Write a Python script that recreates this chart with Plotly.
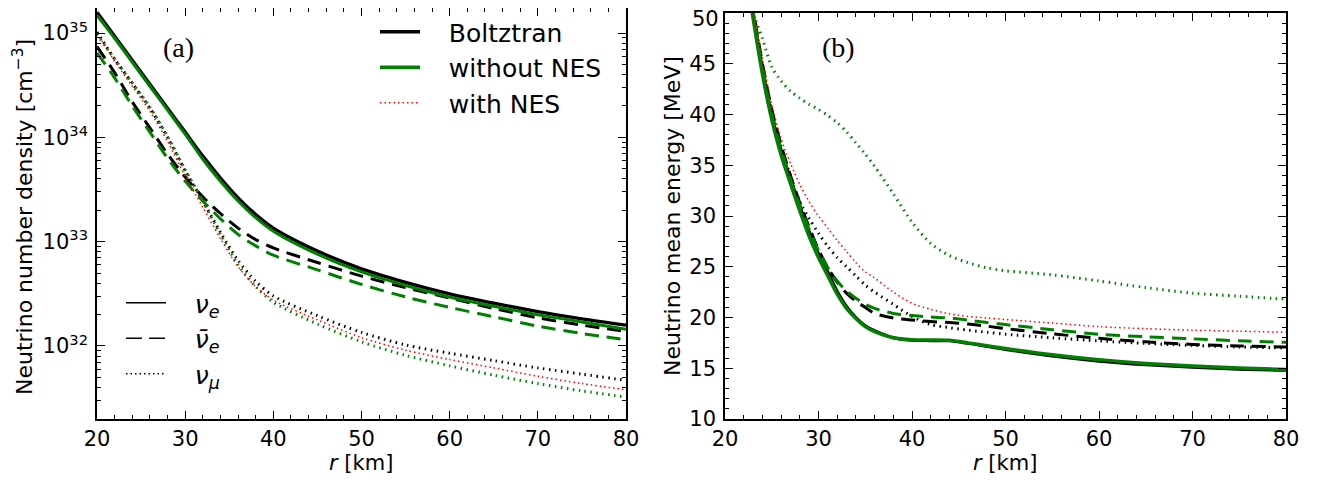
import plotly.graph_objects as go

# ---------------- data ----------------
# panel (a): radius [km] and log10 of number density [cm^-3]
r_a = [20, 22, 24, 26, 28, 30, 32, 34, 36, 38, 40, 45, 50, 55, 60, 65, 70, 75, 80]
logn_boltz_nue    = [35.20, 34.97, 34.74, 34.51, 34.28, 34.05, 33.82, 33.61, 33.42, 33.26, 33.13, 32.91, 32.74, 32.61, 32.50, 32.41, 32.33, 32.26, 32.20]
logn_boltz_anue   = [34.87, 34.62, 34.34, 34.09, 33.84, 33.62, 33.43, 33.27, 33.13, 33.02, 32.94, 32.80, 32.67, 32.56, 32.46, 32.36, 32.27, 32.20, 32.14]
logn_boltz_numu   = [35.01, 34.75, 34.52, 34.28, 34.00, 33.68, 33.39, 33.09, 32.82, 32.62, 32.48, 32.29, 32.13, 32.01, 31.93, 31.86, 31.79, 31.73, 31.67]
logn_woNES_nue    = [35.17, 34.95, 34.72, 34.49, 34.26, 34.03, 33.79, 33.58, 33.39, 33.23, 33.10, 32.88, 32.71, 32.58, 32.47, 32.38, 32.30, 32.23, 32.16]
logn_woNES_anue   = [34.81, 34.57, 34.30, 34.05, 33.80, 33.58, 33.39, 33.22, 33.07, 32.96, 32.87, 32.73, 32.59, 32.47, 32.37, 32.28, 32.19, 32.12, 32.06]
logn_woNES_numu   = [34.99, 34.75, 34.52, 34.29, 34.01, 33.69, 33.39, 33.07, 32.78, 32.57, 32.42, 32.21, 32.04, 31.91, 31.81, 31.72, 31.64, 31.57, 31.51]
logn_wNES_numu    = [35.00, 34.73, 34.49, 34.25, 33.96, 33.63, 33.33, 33.03, 32.76, 32.57, 32.44, 32.25, 32.08, 31.96, 31.87, 31.79, 31.71, 31.64, 31.58]

# panel (b): radius [km] and mean energy [MeV]
r_b = [22.5, 23, 24, 25, 26, 27, 28, 29, 30, 31, 32, 33, 34, 35, 36, 38, 40, 42, 44, 46, 48, 50, 55, 60, 65, 70, 75, 80]
e_boltz_nue  = [53.0, 50.0, 44.5, 40.0, 36.5, 33.7, 31.0, 28.5, 26.3, 24.5, 22.6, 21.1, 20.0, 19.2, 18.7, 18.0, 17.75, 17.72, 17.70, 17.45, 17.15, 16.85, 16.2, 15.7, 15.35, 15.1, 14.9, 14.8]
e_boltz_anue = [53.5, 50.5, 45.0, 40.5, 37.0, 34.0, 31.3, 28.9, 26.7, 24.9, 23.5, 22.4, 21.6, 21.0, 20.4, 19.95, 19.75, 19.6, 19.5, 19.35, 19.15, 18.9, 18.4, 17.95, 17.6, 17.35, 17.2, 17.1]
e_boltz_numu = [53.2, 50.2, 44.8, 40.3, 36.8, 33.9, 31.4, 29.75, 28.3, 27.0, 25.9, 25.0, 24.1, 23.2, 22.5, 21.3, 20.1, 19.3, 19.0, 18.75, 18.55, 18.35, 18.0, 17.7, 17.45, 17.25, 17.1, 17.0]
e_woNES_nue  = [52.5, 49.5, 44.0, 39.5, 36.0, 33.2, 30.5, 28.0, 25.9, 24.1, 22.3, 20.9, 19.9, 19.1, 18.6, 18.0, 17.8, 17.78, 17.75, 17.5, 17.22, 16.95, 16.33, 15.85, 15.48, 15.22, 15.02, 14.88]
e_woNES_anue = [53.0, 50.0, 44.5, 40.0, 36.6, 33.6, 31.0, 28.7, 26.6, 24.9, 23.6, 22.6, 21.9, 21.3, 20.9, 20.4, 20.2, 20.05, 19.95, 19.75, 19.5, 19.3, 18.8, 18.35, 18.1, 17.9, 17.7, 17.55]
e_woNES_numu = [51.5, 50.0, 47.5, 44.7, 43.3, 42.3, 41.6, 41.0, 40.5, 39.9, 39.2, 38.3, 37.2, 36.1, 34.9, 32.2, 29.4, 27.3, 26.1, 25.4, 24.9, 24.6, 24.2, 23.6, 22.95, 22.4, 22.1, 21.8]
e_wNES_numu  = [53.5, 50.5, 45.5, 41.0, 37.6, 35.2, 33.1, 31.4, 30.0, 28.8, 27.6, 26.5, 25.4, 24.5, 23.9, 22.5, 21.4, 20.8, 20.35, 20.1, 19.95, 19.8, 19.45, 19.1, 18.9, 18.75, 18.65, 18.55]

model_names = ["Boltztran", "without NES", "with NES"]
flavour_names = ["<i>ν</i><sub><i>e</i></sub>", "<i>ν̄</i><sub><i>e</i></sub>", "<i>ν</i><sub><i>μ</i></sub>"]

x_ticks = [20, 30, 40, 50, 60, 70, 80]
a_ytickvals = [1e32, 1e33, 1e34, 1e35]
a_yticktext = ["10<sup>32</sup>", "10<sup>33</sup>", "10<sup>34</sup>", "10<sup>35</sup>"]
b_ytickvals = [10, 15, 20, 25, 30, 35, 40, 45, 50]
b_yticktext = ["10", "15", "20", "25", "30", "35", "40", "45", ""]   # "50" is placed as a text below the page edge
b_top_label = "50"

# ---------------- styles ----------------
BLACK, GREEN, RED = "#000000", "#008000", "#ff0000"
DASH = "14px,8px"
DOT = "1.5px,4.5px"
DOT_RED = "1.5px,3px"
FONT = "DejaVu Sans"
GAP = "\u00a0\u00a0\u00a0"

# page body has an 8px margin: work in screen pixels and convert
OFF = 8
W, H = 1330 - OFF, 480 - OFF
def X(px):
    return (px - OFF) / W
def Y(py):
    return 1 - (py - OFF) / H

fig = go.Figure()

def add(x, y, color, width, dash, xa, ya):
    fig.add_trace(go.Scatter(x=x, y=y, mode="lines", showlegend=False, hoverinfo="skip",
                             line=dict(color=color, width=width, dash=dash, shape="spline", smoothing=0.8),
                             xaxis=xa, yaxis=ya))

def pw(vals):
    return [10.0 ** v for v in vals]

# panel (a)
add(r_a, pw(logn_boltz_nue), BLACK, 3.4, "solid", "x", "y")
add(r_a, pw(logn_boltz_anue), BLACK, 3, DASH, "x", "y")
add(r_a, pw(logn_boltz_numu), BLACK, 3, DOT, "x", "y")
add(r_a, pw(logn_woNES_nue), GREEN, 3, "solid", "x", "y")
add(r_a, pw(logn_woNES_anue), GREEN, 3, DASH, "x", "y")
add(r_a, pw(logn_woNES_numu), GREEN, 3, DOT, "x", "y")
add(r_a, pw(logn_wNES_numu), RED, 1.5, DOT_RED, "x", "y")

# panel (b)
add(r_b, e_boltz_nue, BLACK, 3, "solid", "x2", "y2")
add(r_b, e_boltz_anue, BLACK, 3, DASH, "x2", "y2")
add(r_b, e_boltz_numu, BLACK, 3, DOT, "x2", "y2")
add(r_b, e_woNES_nue, GREEN, 3.5, "solid", "x2", "y2")
add(r_b, e_woNES_anue, GREEN, 3, DASH, "x2", "y2")
add(r_b, e_woNES_numu, GREEN, 3, DOT, "x2", "y2")
add(r_b, e_wNES_numu, RED, 1.5, DOT_RED, "x2", "y2")

# legend entries
leg1_styles = [(BLACK, 3.5, "solid"), (GREEN, 3.5, "solid"), (RED, 1.5, DOT_RED)]
for i, (name, (c, w, d)) in enumerate(zip(model_names, leg1_styles)):
    fig.add_trace(go.Scatter(x=[None], y=[None], mode="lines", name=GAP + name, legend="legend",
                             legendgroup=f"m{i}", line=dict(color=c, width=w, dash=d), xaxis="x", yaxis="y"))
leg2_styles = [(BLACK, 1.5, "solid"), (BLACK, 1.5, "16px,7px"), (BLACK, 1.5, "1.5px,3px")]
for i, (name, (c, w, d)) in enumerate(zip(flavour_names, leg2_styles)):
    fig.add_trace(go.Scatter(x=[None], y=[None], mode="lines", name=GAP + name, legend="legend2",
                             legendgroup=f"f{i}", line=dict(color=c, width=w, dash=d), xaxis="x", yaxis="y"))

axis_common = dict(showline=True, linecolor="black", linewidth=1.5, mirror="allticks",
                   ticks="inside", ticklen=8, tickwidth=1.2, tickcolor="black",
                   showgrid=False, zeroline=False, automargin=False,
                   tickfont=dict(family=FONT, size=21, color="black"))
minor_lin = dict(ticks="inside", ticklen=4, tickwidth=1, tickcolor="black", showgrid=False)

minor_log = [m * 10.0 ** e for e in range(31, 36) for m in range(2, 10)]

def ann(text, x, y, size, family=FONT, angle=0, xanchor="center"):
    return dict(text=text, x=X(x), y=Y(y), xref="paper", yref="paper", showarrow=False,
                xanchor=xanchor, yanchor="middle", textangle=angle,
                font=dict(family=family, size=size, color="black"))

fig.update_layout(
    width=W, height=H,
    margin=dict(l=0, r=0, t=0, b=0),
    paper_bgcolor="white", plot_bgcolor="white",
    font=dict(family=FONT, color="black"),
    xaxis=dict(domain=[X(97), X(626)], range=[20, 80], tickvals=x_ticks, anchor="y",
               minor=dict(dtick=2, **minor_lin), ticklabelstandoff=0, **axis_common),
    yaxis=dict(domain=[Y(419), 1], type="log", range=[31.30, 35.24],
               tickvals=a_ytickvals, ticktext=a_yticktext, anchor="x",
               minor=dict(tickvals=minor_log, **minor_lin), ticklabelstandoff=3, **axis_common),
    xaxis2=dict(domain=[X(725), X(1286)], range=[20, 80], tickvals=x_ticks, anchor="y2",
                minor=dict(dtick=2, **minor_lin), ticklabelstandoff=0, **axis_common),
    yaxis2=dict(domain=[Y(419), Y(13)], range=[10, 50], tickvals=b_ytickvals, ticktext=b_yticktext,
                anchor="x2", minor=dict(dtick=1, **minor_lin), ticklabelstandoff=3, **axis_common),
    legend=dict(x=X(375), y=Y(9), xanchor="left", yanchor="top", bgcolor="rgba(0,0,0,0)",
                font=dict(family=FONT, size=25, color="black"), itemwidth=40, tracegroupgap=11,
                traceorder="normal"),
    legend2=dict(x=X(121), y=Y(280), xanchor="left", yanchor="top", bgcolor="rgba(0,0,0,0)",
                 font=dict(family=FONT, size=25, color="black"), itemwidth=40, tracegroupgap=7,
                 traceorder="normal"),
    annotations=[
        ann("(a)", 179, 47, 28, "Liberation Serif"),
        ann("(b)", 838, 47, 28, "Liberation Serif"),
        ann("Neutrino number density [cm<sup>−3</sup>]", 23, 217, 22, angle=-90),
        ann("Neutrino mean energy [MeV]", 673, 216, 22, angle=-90),
        ann("<i>r</i> [km]", 361, 463, 21),
        ann("<i>r</i> [km]", 1005, 463, 21),
        ann(b_top_label, 721, 19, 21, xanchor="right"),
    ],
)

fig.write_html("out.html")
